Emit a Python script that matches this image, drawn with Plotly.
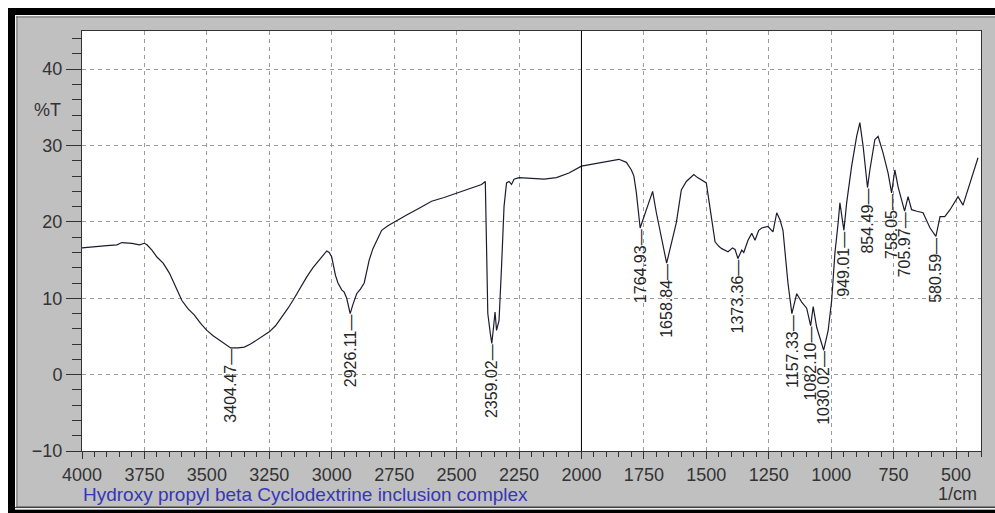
import numpy as np
import plotly.graph_objects as go

# ---- data ----
wavenumber = [4000, 3950, 3900, 3860, 3840, 3800, 3770, 3750, 3740, 3720, 3700, 3675, 3650, 3625,
              3600, 3575, 3550, 3525, 3500, 3475, 3450, 3425, 3404.47, 3375, 3350, 3325, 3300,
              3275, 3250, 3225, 3200, 3175, 3150, 3125, 3100, 3075, 3050, 3030, 3020, 3010, 3000,
              2985, 2975, 2960, 2950, 2940, 2926.11, 2915, 2900, 2885, 2870, 2860, 2850, 2835,
              2820, 2800, 2775, 2750, 2700, 2650, 2600, 2550, 2500, 2450, 2400, 2385, 2375, 2365,
              2359.02, 2352, 2346, 2340, 2330, 2320, 2310, 2300, 2290, 2280, 2270, 2250, 2200,
              2150, 2100, 2050, 2000, 1950, 1900, 1850, 1820, 1800, 1790, 1780, 1764.93, 1750,
              1725, 1715, 1700, 1658.84, 1620, 1600, 1580, 1550, 1535, 1520, 1500, 1480, 1465,
              1450, 1438, 1413, 1395, 1385, 1373.36, 1358, 1350, 1333, 1318, 1305, 1290, 1278,
              1253, 1233, 1218, 1205, 1193, 1173, 1157.33, 1138, 1118, 1098, 1082.10, 1072, 1058,
              1030.02, 1012, 998, 985, 972, 965, 949.01, 938, 918, 898, 885, 872, 854.49, 845, 825,
              812, 792, 772, 758.05, 745, 732, 705.97, 692, 678, 657, 632, 604, 580.59, 564, 545,
              524, 492, 472, 444, 425, 412]
transmittance = [16.6, 16.8, 16.9, 17.0, 17.3, 17.2, 17.0, 17.2, 17.0, 16.3, 15.4, 14.6, 13.3, 11.5,
                 9.7, 8.6, 7.8, 6.7, 5.8, 5.1, 4.5, 3.9, 3.5, 3.5, 3.6, 4.0, 4.5,
                 5.0, 5.6, 6.4, 7.5, 8.7, 10.0, 11.4, 12.8, 14.0, 15.0, 15.9, 16.2, 16.0, 15.4,
                 13.0, 12.0, 11.1, 10.8, 10.0, 8.0, 9.2, 10.6, 11.2, 12.0, 13.5, 15.0, 16.5,
                 17.6, 18.9, 19.5, 20.0, 20.9, 21.8, 22.7, 23.2, 23.8, 24.3, 24.9, 25.3, 8.0, 5.4,
                 4.1, 6.2, 8.2, 5.8, 7.1, 14.1, 22.0, 25.1, 25.3, 24.9, 25.6, 25.8, 25.7,
                 25.6, 25.8, 26.4, 27.3, 27.6, 27.9, 28.2, 27.8, 26.8, 26.0, 23.8, 19.2, 20.7,
                 23.3, 24.0, 21.2, 14.6, 19.9, 24.2, 25.3, 26.2, 25.8, 25.5, 25.1, 20.7, 17.4,
                 16.8, 16.5, 16.1, 16.6, 16.4, 15.2, 16.3, 16.0, 17.6, 18.5, 17.6, 18.9, 19.2,
                 19.4, 18.7, 21.2, 20.3, 18.9, 12.0, 8.0, 10.6, 9.5, 8.7, 6.4, 8.9, 6.2,
                 3.2, 5.8, 9.7, 15.9, 19.9, 22.5, 18.9, 22.5, 27.3, 31.2, 33.0, 29.9, 24.5, 26.8, 30.8,
                 31.2, 29.0, 26.4, 23.8, 26.8, 24.6, 21.4, 23.3, 21.6, 21.4, 21.2, 19.2, 18.1, 20.7, 20.7,
                 21.6, 23.3, 22.2, 25.1, 26.8, 28.4]

peak_wn = [3404.47, 2926.11, 2359.02, 1764.93, 1658.84, 1373.36, 1157.33, 1082.10, 1030.02,
           949.01, 854.49, 758.05, 705.97, 580.59]
peak_text = ["3404.47", "2926.11", "2359.02", "1764.93", "1658.84", "1373.36", "1157.33",
             "1082.10", "1030.02", "949.01", "854.49", "758.05", "705.97", "580.59"]

cursor_wn = [2000]
x_range = [4000, 400]
y_range = [-10, 45]
caption = "Hydroxy propyl beta Cyclodextrine inclusion complex"

# ---- figure geometry (pixels) ----
W, H = 995, 513
L, R, T, B = 82, 14, 31, 62
pw, ph = W - L - R, H - T - B


def px(x):
    return (x - L) / pw


def py(y):
    return (H - B - y) / ph


TICK_FONT = dict(family="Liberation Sans, Arial", size=18, color="#333333")

fig = go.Figure()
fig.add_trace(go.Scatter(x=wavenumber, y=transmittance, mode="lines",
                         line=dict(color="#1c1c30", width=1.2), hoverinfo="skip", showlegend=False))

# peak labels
wn_arr = np.array(wavenumber[::-1], dtype=float)
t_arr = np.array(transmittance[::-1], dtype=float)
for w, t in zip(peak_wn, peak_text):
    yv = float(np.interp(w, wn_arr, t_arr))
    fig.add_annotation(x=w, y=yv, text=t + "\u2014", textangle=-90, showarrow=False,
                       xanchor="center", yanchor="top", yshift=1,
                       font=dict(family="Liberation Sans, Arial", size=16, color="#262626"))

# cursor line
for c in cursor_wn:
    fig.add_shape(type="line", xref="x", yref="paper", x0=c, x1=c, y0=0, y1=1,
                  line=dict(color="#000000", width=1))

# frame decoration
frame = [
    dict(x0=0, x1=W, y0=0, y1=8, color="#ffffff"),
    dict(x0=0, x1=8, y0=0, y1=H, color="#ffffff"),
    dict(x0=8, x1=W, y0=8, y1=15, color="#000000"),
    dict(x0=8, x1=15, y0=8, y1=H, color="#000000"),
    dict(x0=8, x1=W, y0=509.5, y1=H, color="#000000"),
    dict(x0=15, x1=W, y0=508, y1=509.5, color="#f0f0f0"),
    dict(x0=15, x1=W, y0=506.5, y1=508, color="#404040"),
    dict(x0=15, x1=W, y0=15, y1=16, color="#f4f4f4"),
    dict(x0=15, x1=16, y0=15, y1=507, color="#f4f4f4"),
    dict(x0=16, x1=W, y0=16.5, y1=17.5, color="#707070"),
    dict(x0=16.5, x1=17.5, y0=16, y1=507, color="#707070"),
]
for f in frame:
    fig.add_shape(type="rect", xref="paper", yref="paper",
                  x0=px(f["x0"]), x1=px(f["x1"]), y0=py(f["y0"]), y1=py(f["y1"]),
                  fillcolor=f["color"], line=dict(width=0), layer="above")

fig.add_annotation(xref="paper", yref="paper", x=px(81), y=py(494), text=caption,
                   showarrow=False, xanchor="left", yanchor="middle",
                   font=dict(family="Liberation Sans, Arial", size=19, color="#3636b8"))
fig.add_annotation(xref="paper", yref="paper", x=px(979), y=py(494), text="1/cm",
                   showarrow=False, xanchor="right", yanchor="middle", font=TICK_FONT)
fig.add_annotation(xref="paper", yref="paper", x=px(63), y=py(110), text="%T",
                   showarrow=False, xanchor="right", yanchor="middle", font=TICK_FONT)

fig.update_xaxes(range=x_range, tick0=0, dtick=250, ticks="outside", ticklen=7, tickcolor="#333333",
                 showgrid=True, gridcolor="#9c9c9c", griddash="4px,4px", gridwidth=1,
                 minor=dict(dtick=50, ticks="outside", ticklen=5, tickcolor="#333333", showgrid=False),
                 showline=True, linecolor="#333333", linewidth=1, mirror=True,
                 zeroline=False, tickfont=TICK_FONT, ticklabelstandoff=0)
fig.update_yaxes(range=y_range, tick0=0, dtick=10, ticks="outside", ticklen=15, tickcolor="#333333",
                 showgrid=True, gridcolor="#9c9c9c", griddash="4px,4px", gridwidth=1,
                 minor=dict(dtick=2, ticks="outside", ticklen=9, tickcolor="#333333", showgrid=False),
                 showline=True, linecolor="#333333", linewidth=1, mirror=True,
                 zeroline=False, tickfont=TICK_FONT, ticklabelstandoff=0)

fig.update_layout(width=W, height=H, margin=dict(l=L, r=R, t=T, b=B, pad=0),
                  paper_bgcolor="#c0c0c0", plot_bgcolor="#ffffff", showlegend=False)

fig.write_html("out.html")
